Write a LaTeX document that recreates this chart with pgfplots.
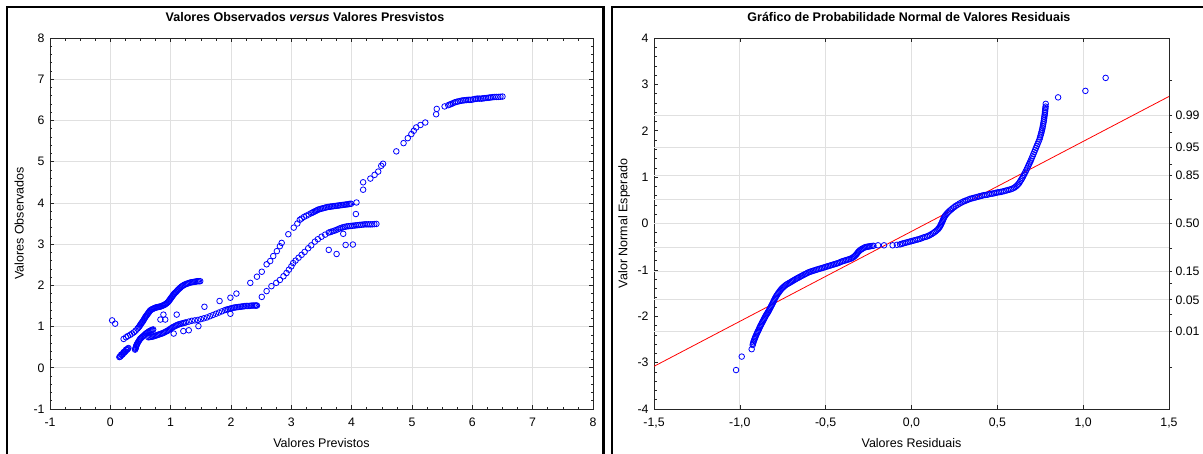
\documentclass[border=0pt]{standalone}
\usepackage{fontspec}
\setmainfont{Liberation Sans}
\usepackage{pgfplots}
\pgfplotsset{compat=1.18}
\pgfplotsset{
  panel/.style={
    scale only axis, anchor=south west, height=371pt,
    font=\fontsize{12.5}{14}\selectfont,
    tick label style={font=\fontsize{12.3}{14}\selectfont},
    /pgf/number format/assume math mode=true,
    axis line style={black!85, line width=0.8pt},
    grid style={black!12, line width=0.7pt},
    major tick length=4pt, minor tick length=2.5pt,
    tick style={black!85, line width=0.6pt},
    xticklabel shift=5.5pt, yticklabel shift=2pt,
    title style={font=\bfseries\fontsize{12.5}{14}\selectfont, anchor=base},
    xlabel style={anchor=base},
    ylabel style={anchor=base},
  },
  pts/.style={only marks, mark=o, mark size=2.8pt, color=blue, mark options={line width=0.8pt}},
}
\begin{document}
\begin{tikzpicture}
\path[use as bounding box] (0pt,0pt) rectangle (1203pt,-453pt);
\begin{scope}
\clip (0pt,0pt) rectangle (1203pt,-453pt);
\draw[line width=2.6pt] (7pt,-7pt) rectangle (603.3pt,-480pt);
\draw[line width=2.6pt] (612pt,-7pt) rectangle (1230pt,-480pt);
\end{scope}

% ---------------- left panel ----------------
\begin{axis}[panel, at={(50pt,-409pt)}, width=543pt,
  xmin=-1, xmax=8, ymin=-1, ymax=8,
  xtick={-1,0,...,8}, ytick={-1,0,...,8},
  minor x tick num=3, minor y tick num=4,
  grid=major,
  title={Valores Observados \textit{versus} Valores Presvistos},
  title style={at={(axis description cs:0.4696,1.0288)}},
  xlabel={Valores Previstos},
  xlabel style={at={(axis description cs:0.5,-0.1051)}},
  ylabel={Valores Observados},
  ylabel style={at={(axis description cs:-0.0488,0.5)}},
]
\addplot[pts] coordinates {
(0.03,1.15) (0.08,1.07)
(0.15,0.26) (0.17,0.28) (0.19,0.31) (0.21,0.34) (0.23,0.37) (0.25,0.40) (0.27,0.43) (0.29,0.46) (0.30,0.48) (0.18,0.32) (0.22,0.38) (0.26,0.44)
(0.22,0.70) (0.26,0.74) (0.29,0.77) (0.33,0.80) (0.36,0.83) (0.39,0.86) (0.42,0.90) (0.45,0.95) (0.48,1.00) (0.50,1.05) (0.52,1.09) (0.54,1.13) (0.56,1.18) (0.58,1.23) (0.60,1.27) (0.62,1.31) (0.64,1.35) (0.66,1.39) (0.69,1.42) (0.72,1.44) (0.75,1.46) (0.78,1.47) (0.81,1.48) (0.84,1.49) (0.87,1.51) (0.90,1.53) (0.93,1.56) (0.96,1.60) (0.98,1.64) (1.00,1.68) (1.02,1.72) (1.04,1.76) (1.06,1.80) (1.09,1.84) (1.12,1.89) (1.15,1.93) (1.18,1.97) (1.21,2.00) (1.25,2.03) (1.29,2.05) (1.33,2.07) (1.37,2.08) (1.41,2.09) (1.45,2.10) (1.49,2.10)
(0.41,0.44) (0.42,0.48) (0.43,0.53) (0.44,0.57) (0.46,0.62) (0.48,0.67) (0.50,0.71) (0.53,0.75) (0.56,0.79) (0.59,0.83) (0.62,0.86) (0.65,0.89) (0.68,0.91) (0.71,0.93)
(0.63,0.74) (0.67,0.75) (0.71,0.76) (0.75,0.78) (0.79,0.80) (0.83,0.82) (0.87,0.84) (0.91,0.87) (0.95,0.90) (0.99,0.94) (1.03,0.98) (1.07,1.01) (1.11,1.04) (1.15,1.06) (1.20,1.08) (1.25,1.10) (1.30,1.12) (1.35,1.14) (1.40,1.15) (1.45,1.16) (1.50,1.18) (1.55,1.20) (1.60,1.22) (1.65,1.25) (1.70,1.28) (1.75,1.31) (1.80,1.34) (1.85,1.37) (1.90,1.40) (1.95,1.42) (2.00,1.44) (2.05,1.46) (2.10,1.47) (2.15,1.48) (2.20,1.49) (2.25,1.50) (2.30,1.50) (2.35,1.51) (2.40,1.51) (2.43,1.51)
(1.05,0.83) (1.21,0.89) (1.30,0.91) (1.46,1.01) (1.10,1.29) (0.83,1.17) (0.91,1.17) (0.88,1.29) (1.56,1.48) (1.81,1.62) (1.99,1.70) (2.09,1.80) (1.99,1.31)
(2.32,2.06) (2.43,2.21) (2.51,2.33) (2.59,2.51) (2.65,2.59) (2.70,2.71) (2.76,2.83) (2.81,2.95) (2.84,3.03) (2.95,3.24) (3.04,3.40) (3.10,3.50) (3.14,3.59) (3.17,3.62) (3.21,3.66) (3.25,3.69) (3.29,3.72) (3.33,3.75) (3.37,3.78) (3.41,3.81) (3.45,3.84) (3.50,3.86) (3.55,3.88) (3.60,3.90) (3.65,3.91) (3.70,3.92) (3.75,3.93) (3.80,3.94) (3.85,3.95) (3.90,3.96) (3.95,3.97) (3.99,3.98) (4.08,4.01) (4.07,3.73)
(2.51,1.72) (2.59,1.86) (2.67,1.98) (2.75,2.06) (2.81,2.13) (2.87,2.22) (2.92,2.30) (2.96,2.38) (3.00,2.46) (3.03,2.54) (3.07,2.60) (3.12,2.67) (3.17,2.74) (3.22,2.81) (3.28,2.90) (3.33,2.97) (3.39,3.06) (3.44,3.12) (3.50,3.18) (3.56,3.23) (3.62,3.28) (3.68,3.31) (3.74,3.34) (3.80,3.38) (3.86,3.41) (3.92,3.43) (3.98,3.44) (4.04,3.45) (4.10,3.46) (4.16,3.47) (4.22,3.48) (4.28,3.48) (4.34,3.48) (4.41,3.49)
(3.62,2.86) (3.75,2.76) (3.90,2.98) (4.02,2.99) (3.86,3.25)
(4.19,4.32) (4.19,4.50) (4.31,4.59) (4.38,4.68) (4.44,4.76) (4.49,4.90) (4.52,4.95) (4.74,5.25) (4.86,5.45) (4.93,5.57) (4.99,5.67) (5.03,5.75) (5.07,5.83) (5.14,5.89) (5.22,5.95) (5.40,6.15) (5.41,6.28) (5.54,6.34) (5.60,6.37) (5.65,6.40) (5.71,6.44) (5.76,6.46) (5.82,6.48) (5.87,6.49) (5.93,6.50) (5.98,6.50) (6.04,6.52) (6.09,6.53) (6.15,6.53) (6.20,6.54) (6.26,6.55) (6.31,6.56) (6.37,6.57) (6.43,6.57) (6.50,6.58)
};
\addplot[pts] coordinates {
(0.16,0.27) (0.20,0.325) (0.24,0.385) (0.28,0.445)
(0.465,0.975) (0.49,1.025) (0.51,1.07) (0.53,1.11) (0.55,1.155) (0.57,1.205) (0.59,1.25) (0.61,1.29) (0.63,1.33) (0.65,1.37) (0.675,1.405) (0.705,1.43) (0.735,1.45) (0.765,1.465) (0.795,1.475) (0.825,1.485) (0.855,1.50) (0.885,1.52) (0.915,1.545) (0.945,1.58) (0.97,1.62) (0.99,1.66) (1.01,1.70) (1.03,1.74) (1.05,1.78) (1.075,1.82) (1.105,1.865) (1.135,1.91) (1.165,1.95) (1.195,1.985) (1.23,2.015) (1.27,2.04) (1.31,2.06) (1.35,2.075) (1.39,2.085) (1.43,2.095) (1.47,2.10)
(0.415,0.46) (0.425,0.505) (0.435,0.55) (0.45,0.595) (0.47,0.645) (0.49,0.69) (0.515,0.73) (0.545,0.77) (0.575,0.81) (0.605,0.845) (0.635,0.875) (0.665,0.90) (0.695,0.92)
(0.65,0.745) (0.69,0.755) (0.73,0.77) (0.77,0.79) (0.81,0.81) (0.85,0.83) (0.89,0.855) (0.93,0.885) (0.97,0.92) (1.01,0.96) (1.05,0.995) (1.09,1.025) (1.13,1.05) (1.175,1.07) (1.225,1.09) (1.925,1.41) (1.975,1.43) (2.025,1.45) (2.075,1.465) (2.125,1.475) (2.175,1.485) (2.225,1.495) (2.275,1.50) (2.325,1.505) (2.375,1.51) (2.415,1.51)
(3.35,3.765) (3.39,3.795) (3.43,3.825) (3.475,3.85) (3.525,3.87) (3.575,3.89) (3.625,3.905) (3.675,3.915) (3.725,3.925) (3.775,3.935) (3.825,3.945) (3.875,3.955) (3.925,3.965) (3.97,3.975)
(3.65,3.295) (3.71,3.325) (3.77,3.36) (3.83,3.395) (3.89,3.42) (3.95,3.435) (4.01,3.445) (4.07,3.455) (4.13,3.465) (4.19,3.475) (4.25,3.48) (4.31,3.48) (4.375,3.485)
(5.625,6.385) (5.68,6.42) (5.735,6.45) (5.79,6.47) (5.845,6.485) (5.90,6.495) (5.955,6.50) (6.01,6.51) (6.065,6.525) (6.12,6.53) (6.175,6.535) (6.23,6.545) (6.285,6.555) (6.34,6.565) (6.40,6.57) (6.465,6.575)
};
\end{axis}

% ---------------- right panel ----------------
\begin{axis}[panel, at={(654pt,-409pt)}, width=515pt,
  xmin=-1.5, xmax=1.5, ymin=-4, ymax=4,
  xtick={-1.5,-1,-0.5,0,0.5,1,1.5},
  xticklabels={{-1,5},{-1,0},{-0,5},{0,0},{0,5},{1,0},{1,5}},
  ytick={-4,-3,...,4}, ytick pos=left, minor y tick num=4,
  xmajorgrids=true,
  extra y ticks={-2.326,-1.645,-1.036,-0.524,0,0.524,1.036,1.645,2.326},
  extra y tick labels={},
  extra y tick style={grid=major, major tick length=0pt},
  title={Gráfico de Probabilidade Normal de Valores Residuais},
  title style={at={(axis description cs:0.495,1.0288)}},
  xlabel={Valores Residuais},
  xlabel style={at={(axis description cs:0.5,-0.1051)}},
  ylabel={Valor Normal Esperado},
  ylabel style={at={(axis description cs:-0.0515,0.5)}},
]
\addplot[red, line width=0.8pt] coordinates {(-1.5,-3.08) (1.5,2.74)};
\addplot[pts] coordinates {
(-1.022,-3.16) (-0.989,-2.87) (-0.931,-2.71) (-0.925,-2.62) (-0.921,-2.56) (-0.915,-2.50) (-0.910,-2.45) (-0.903,-2.39) (-0.897,-2.34) (-0.890,-2.29) (-0.883,-2.23) (-0.876,-2.18) (-0.869,-2.13) (-0.862,-2.08) (-0.855,-2.03) (-0.848,-1.98) (-0.841,-1.94) (-0.834,-1.90) (-0.827,-1.85) (-0.820,-1.80) (-0.813,-1.75) (-0.806,-1.70) (-0.800,-1.65) (-0.793,-1.60) (-0.785,-1.55) (-0.776,-1.50) (-0.766,-1.45) (-0.755,-1.40) (-0.743,-1.36) (-0.730,-1.32) (-0.716,-1.29) (-0.702,-1.26) (-0.689,-1.23) (-0.675,-1.20) (-0.660,-1.17) (-0.645,-1.14) (-0.630,-1.11) (-0.614,-1.08) (-0.598,-1.05) (-0.582,-1.03) (-0.565,-1.01) (-0.548,-0.99) (-0.530,-0.97) (-0.512,-0.95) (-0.495,-0.93) (-0.477,-0.91) (-0.460,-0.89) (-0.442,-0.87) (-0.425,-0.85) (-0.407,-0.82) (-0.390,-0.80) (-0.372,-0.78) (-0.355,-0.76) (-0.340,-0.73) (-0.330,-0.70) (-0.320,-0.66) (-0.310,-0.61) (-0.298,-0.57) (-0.285,-0.54) (-0.270,-0.51) (-0.255,-0.50) (-0.240,-0.49) (-0.222,-0.48) (-0.195,-0.47) (-0.160,-0.47) (-0.110,-0.47) (-0.085,-0.46) (-0.067,-0.45) (-0.050,-0.43) (-0.030,-0.41) (-0.010,-0.39) (0.010,-0.37) (0.030,-0.35) (0.050,-0.33) (0.070,-0.30) (0.090,-0.28) (0.107,-0.25) (0.125,-0.21) (0.140,-0.17) (0.155,-0.12) (0.165,-0.07) (0.172,-0.02) (0.178,0.03) (0.184,0.08) (0.190,0.13) (0.198,0.18) (0.210,0.23) (0.224,0.28) (0.240,0.33) (0.258,0.38) (0.280,0.43) (0.300,0.47) (0.320,0.50) (0.340,0.53) (0.360,0.55) (0.380,0.57) (0.400,0.59) (0.420,0.61) (0.440,0.62) (0.460,0.64) (0.480,0.65) (0.500,0.67) (0.520,0.68) (0.540,0.70) (0.560,0.72) (0.580,0.74) (0.598,0.77) (0.612,0.81) (0.625,0.86) (0.635,0.92) (0.645,0.98) (0.655,1.05) (0.665,1.12) (0.675,1.20) (0.685,1.28) (0.695,1.36) (0.705,1.45) (0.715,1.54) (0.725,1.63) (0.735,1.72) (0.745,1.81) (0.752,1.90) (0.758,1.98) (0.763,2.06) (0.767,2.14) (0.771,2.22) (0.774,2.30) (0.777,2.38) (0.779,2.45) (0.781,2.52) (0.782,2.58) (0.854,2.72) (1.013,2.86) (1.131,3.14)
};
\addplot[pts] coordinates {
(-0.923,-2.59) (-0.918,-2.53) (-0.9125,-2.475) (-0.9065,-2.42) (-0.90,-2.365) (-0.8935,-2.315) (-0.8865,-2.26) (-0.8795,-2.205) (-0.8725,-2.155) (-0.8655,-2.105) (-0.8585,-2.055) (-0.8515,-2.005) (-0.8445,-1.96) (-0.8375,-1.92) (-0.8305,-1.875) (-0.8235,-1.825) (-0.8165,-1.775) (-0.8095,-1.725) (-0.803,-1.675) (-0.7965,-1.625) (-0.789,-1.575) (-0.7805,-1.525) (-0.771,-1.475) (-0.7605,-1.425) (-0.749,-1.38) (-0.7365,-1.34) (-0.723,-1.305) (-0.709,-1.275) (-0.6955,-1.245) (-0.682,-1.215) (-0.6675,-1.185) (-0.6525,-1.155) (-0.6375,-1.125) (-0.622,-1.095) (-0.606,-1.065) (-0.59,-1.04) (-0.5735,-1.02) (-0.5565,-1.00) (-0.539,-0.98) (-0.521,-0.96) (-0.5035,-0.94) (-0.486,-0.92) (-0.4685,-0.90) (-0.451,-0.88) (-0.4335,-0.86) (-0.416,-0.835) (-0.3985,-0.81) (-0.381,-0.79) (-0.3635,-0.77) (-0.3475,-0.745) (-0.335,-0.715) (-0.325,-0.68) (-0.315,-0.635) (-0.304,-0.59) (-0.2915,-0.555) (-0.2775,-0.525) (-0.2625,-0.505) (-0.2475,-0.495) (-0.231,-0.485)
(-0.0585,-0.44) (-0.04,-0.42) (-0.02,-0.40) (0.0,-0.38) (0.02,-0.36) (0.04,-0.34) (0.06,-0.315) (0.08,-0.29) (0.0985,-0.265) (0.116,-0.23) (0.1325,-0.19) (0.1475,-0.145) (0.16,-0.095) (0.1685,-0.045) (0.175,0.005) (0.181,0.055) (0.187,0.105) (0.194,0.155) (0.204,0.205) (0.217,0.255) (0.232,0.305) (0.249,0.355) (0.269,0.405) (0.29,0.45) (0.31,0.485) (0.33,0.515) (0.35,0.54) (0.37,0.56) (0.39,0.58) (0.41,0.60) (0.43,0.615) (0.45,0.63) (0.47,0.645) (0.49,0.66) (0.51,0.675) (0.53,0.69) (0.55,0.71) (0.57,0.73) (0.589,0.755) (0.605,0.79) (0.6185,0.835) (0.63,0.89) (0.64,0.95) (0.65,1.015) (0.66,1.085) (0.67,1.16) (0.68,1.24) (0.69,1.32) (0.70,1.405) (0.71,1.495) (0.72,1.585) (0.73,1.675) (0.74,1.765) (0.7485,1.855) (0.755,1.94) (0.7605,2.02) (0.765,2.10) (0.769,2.18) (0.7725,2.26) (0.7755,2.34) (0.778,2.415) (0.78,2.485)
};
\end{axis}
\begin{axis}[panel, at={(654pt,-409pt)}, width=515pt,
  xmin=-1.5, xmax=1.5, ymin=-4, ymax=4,
  axis x line=none, axis y line*=right,
  ytick={-3.09,-2.326,-1.96,-1.645,-1.282,-1.036,-0.524,0,0.524,1.036,1.282,1.645,1.96,2.326,3.09},
  yticklabels={,0.01,,0.05,,0.15,,0.50,,0.85,,0.95,,0.99,},
  tick align=outside, major tick length=3pt,
  yticklabel shift=0pt,
]
\addplot[draw=none] coordinates {(0,0)};
\end{axis}
\end{tikzpicture}
\end{document}
